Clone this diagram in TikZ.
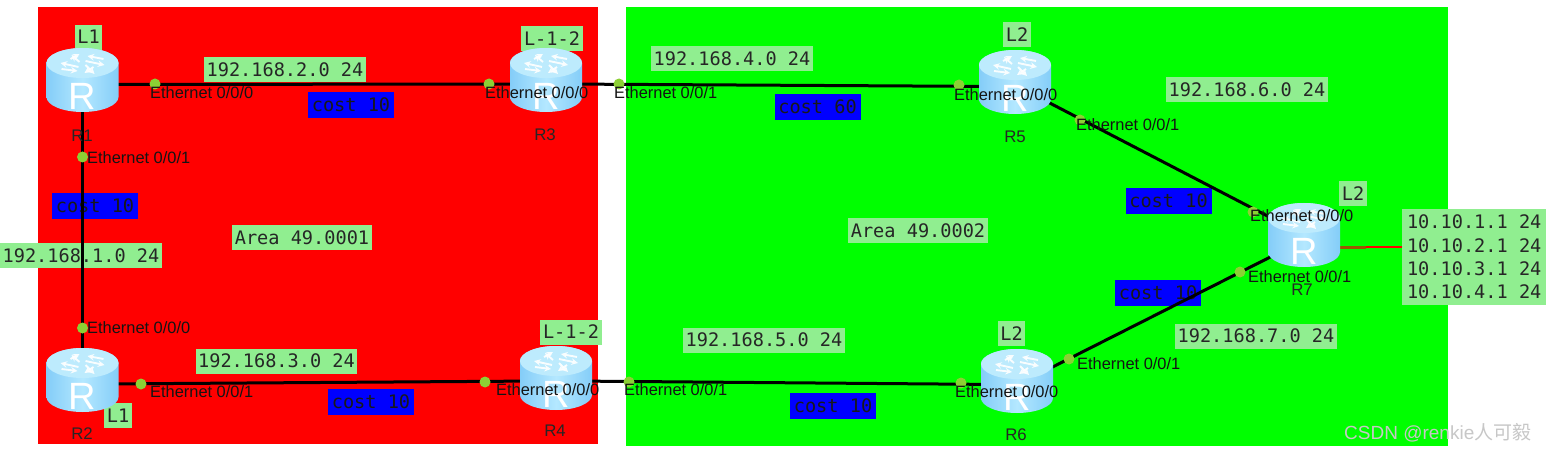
\documentclass[tikz,border=0pt]{standalone}
\usepackage{fontspec}
\setmainfont{Liberation Sans}
\newfontfamily\lblmono{DejaVu Sans Mono}
\newfontfamily\cjkwm{Noto Sans CJK SC}
\definecolor{lbl}{HTML}{90EE90}
\definecolor{dotc}{HTML}{8CD034}
\definecolor{rtop}{HTML}{BDEBFD}
\definecolor{rmid}{HTML}{B4E8FF}
\definecolor{redge}{HTML}{84CDF8}
\definecolor{stubc}{HTML}{9A5A00}
\tikzset{
  x=1pt,y=-1pt,
  link/.style={line width=3pt,black},
  ifdot/.style={circle,fill=dotc,inner sep=0pt,minimum size=11pt},
  iftext/.style={font=\fontsize{16.4}{17}\selectfont,inner sep=0pt,text=black!92,anchor=west},
  rname/.style={font=\fontsize{16.8}{17}\selectfont,inner sep=0pt,text=black!85},
  netlabel/.style={fill=lbl,font=\lblmono\fontsize{18.6}{19}\selectfont,text=black!85,inner xsep=2.6pt,inner ysep=0pt,minimum height=25pt,text height=13.5pt,text depth=.5pt},
  costlabel/.style={fill=blue,font=\lblmono\fontsize{18.6}{19}\selectfont,text=black!90,inner xsep=2.6pt,inner ysep=0pt,minimum width=86pt,minimum height=26pt,text height=13.5pt,text depth=.5pt},
  rnode/.style={inner sep=0pt,minimum width=72pt,minimum height=64pt},
  rarrow/.style={white,line width=1.9pt,opacity=.9,-stealth},
  pics/router/.style={code={
    \path[left color=redge,right color=redge,middle color=rmid]
      (-36,-17) -- (-36,17) arc[x radius=36,y radius=15,start angle=180,end angle=0] -- (36,-17) arc[x radius=36,y radius=15,start angle=360,end angle=180] -- cycle;
    \fill[rtop] (0,-17) ellipse[x radius=36,y radius=15];
    \draw[rarrow] (-3,-18) -- (-11,-25);
    \draw[rarrow] (-12,-21) -- (-3,-26);
    \draw[rarrow] (3,-19) -- (22,-15);
    \draw[rarrow] (21,-21) -- (5,-24);
    \draw[rarrow] (-4,-13) -- (-22,-17);
    \draw[rarrow] (-21,-11) -- (-5,-9);
    \draw[rarrow] (3,-15) -- (12,-6);
    \draw[rarrow] (11,-13) -- (2,-7);
    \node[white,inner sep=0pt,font=\fontsize{38}{38}\selectfont] at (0,16) {R};
  }}
}
\begin{document}
\begin{tikzpicture}
\useasboundingbox (0,0) rectangle (1546,454);
\fill[white] (0,0) rectangle (1546,454);
\fill[red] (38,7) rectangle (598,444);
\fill[green] (626,7) rectangle (1448,446);

% labels lie under links and routers
\node[netlabel] (n12) at (285,70) {192.168.2.0 24};
\node[netlabel] (n13) at (81,255.5) {192.168.1.0 24};
\node[netlabel] (n23) at (276.5,361) {192.168.3.0 24};
\node[netlabel] (n35) at (732,59) {192.168.4.0 24};
\node[netlabel] (n46) at (764,340) {192.168.5.0 24};
\node[netlabel] (n57) at (1247,90) {192.168.6.0 24};
\node[netlabel] (n67) at (1256,336) {192.168.7.0 24};
\node[netlabel] (a1) at (302,238) {Area 49.0001};
\node[netlabel] (a2) at (918,230.5) {Area 49.0002};
\node[netlabel] (l1a) at (88.5,37.5) {L1};
\node[netlabel] (l1b) at (118,415.5) {L1};
\node[netlabel] (l12a) at (552,39) {L-1-2};
\node[netlabel] (l12b) at (571,332) {L-1-2};
\node[netlabel] (l2a) at (1017,35) {L2};
\node[netlabel] (l2b) at (1011.5,333.5) {L2};
\node[netlabel] (l2c) at (1353,194) {L2};
\node[fill=lbl,anchor=west,align=left,inner xsep=2pt,inner ysep=0pt,minimum width=144pt,minimum height=96.5pt,text=black!85,font=\lblmono\fontsize{18.6}{23.4}\selectfont] (loopb) at (1402,257) {10.10.1.1 24\\10.10.2.1 24\\10.10.3.1 24\\10.10.4.1 24};
\node[costlabel] (c1) at (351,105) {cost 10};
\node[costlabel] (c2) at (95,206) {cost 10};
\node[costlabel] (c3) at (371,402) {cost 10};
\node[costlabel] (c4) at (817.5,107) {cost 60};
\node[costlabel] (c5) at (833,406) {cost 10};
\node[costlabel] (c6) at (1168.5,201) {cost 10};
\node[costlabel] (c7) at (1158,293) {cost 10};

\node[rnode] (R1) at (82.5,80) {};
\node[rnode] (R2) at (82.5,380) {};
\node[rnode] (R3) at (546,80) {};
\node[rnode] (R4) at (556,378) {};
\node[rnode] (R5) at (1015,82) {};
\node[rnode] (R6) at (1017,381) {};
\node[rnode] (R7) at (1304,235) {};
\coordinate (p1) at (100,84.5);
\coordinate (p3) at (530,84);
\coordinate (q3) at (560,84);
\coordinate (q5) at (1000,86.5);
\coordinate (p2) at (100,384);
\coordinate (p4) at (540,381);
\coordinate (q4) at (570,381);
\coordinate (q6) at (1000,384.5);
\coordinate (r5) at (1015,85);
\coordinate (r7) at (1304,235);
\coordinate (s6) at (1017,385);
\coordinate (s7) at (1304,240);
\coordinate (t7) at (1339,247.5);
\coordinate (tm) at (1366,247.5);

\draw[link] (p1) -- (p3);
\draw[link] (R1) -- (R2);
\draw[link] (q3) -- (q5);
\draw[link] (p2) -- (p4);
\draw[link] (q4) -- (q6);
\draw[link] (r5) -- (r7);
\draw[link] (s6) -- (s7);
\draw[line width=2.2pt,stubc] (t7) -- (tm);
\draw[line width=2pt,red] (tm) -- (loopb.west|-tm);

\pic at (R1) {router};
\pic at (R2) {router};
\pic at (R3) {router};
\pic at (R4) {router};
\pic at (R5) {router};
\pic at (R6) {router};
\pic at (R7) {router};

\foreach \n/\x/\y in {a/155/84,b/489/84,c/619/84,d/959/85,e/82.5/157,f/82.5/328,g/141/384,h/485/382,i/629/382,j/961/383,k/1080/120,l/1253/212,m/1069/359,n/1240/272}
  \node[ifdot] (d\n) at (\x,\y) {};

\node[rname] at (82,136) {R1};
\node[rname] at (82,434) {R2};
\node[rname] at (545,135) {R3};
\node[rname] at (555,431) {R4};
\node[rname] at (1015,137) {R5};
\node[rname] at (1016,435) {R6};
\node[rname] at (1302,290) {R7};

\node[iftext] at (150,93) {Ethernet 0/0/0};
\node[iftext] at (87,158) {Ethernet 0/0/1};
\node[iftext] at (87,328) {Ethernet 0/0/0};
\node[iftext] at (150,392) {Ethernet 0/0/1};
\node[iftext] at (485,93) {Ethernet 0/0/0};
\node[iftext] at (614,93) {Ethernet 0/0/1};
\node[iftext] at (496,390) {Ethernet 0/0/0};
\node[iftext] at (624,390) {Ethernet 0/0/1};
\node[iftext] at (954,95) {Ethernet 0/0/0};
\node[iftext] at (1076,125) {Ethernet 0/0/1};
\node[iftext] at (955,392) {Ethernet 0/0/0};
\node[iftext] at (1077,364) {Ethernet 0/0/1};
\node[iftext] at (1250,216) {Ethernet 0/0/0};
\node[iftext] at (1248,277) {Ethernet 0/0/1};

\node[inner sep=0pt,anchor=west,text=black!22,font=\fontsize{19}{20}\selectfont] (wm) at (1344,433) {CSDN @renkie{\cjkwm 人可毅}};
\end{tikzpicture}
\end{document}
